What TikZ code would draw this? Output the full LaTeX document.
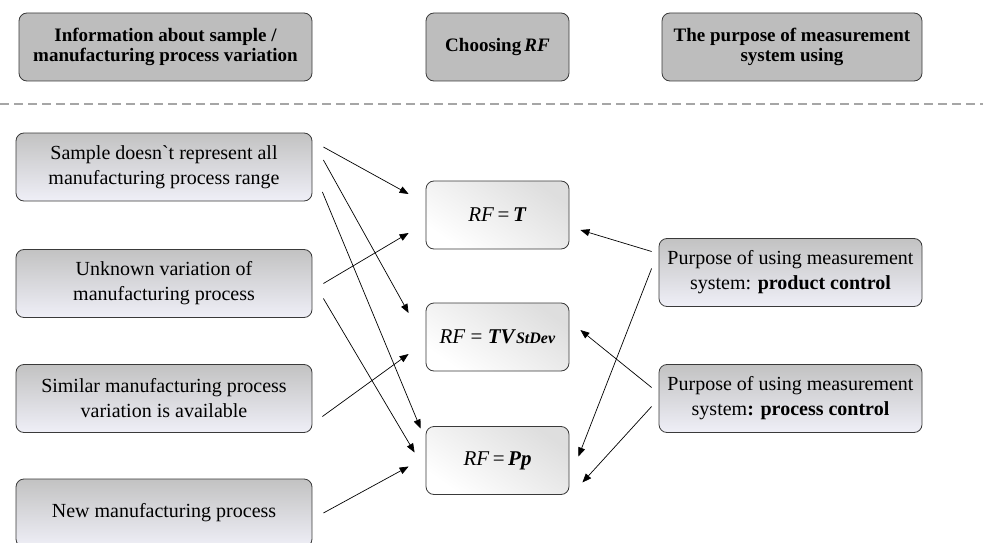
\documentclass[tikz,border=0pt]{standalone}
\usepackage{fontspec}
\setmainfont{Liberation Serif}
\newfontfamily\plainserif[Ligatures=ResetAll]{Liberation Serif}
\usetikzlibrary{arrows.meta,calc}
\definecolor{hdrgray}{HTML}{BDBDBD}
\definecolor{srctop}{HTML}{C2C2C2}
\definecolor{srcbot}{HTML}{EFEFF7}
\definecolor{rftop}{HTML}{DEDEDE}
\definecolor{edgec}{HTML}{3A3A3A}
\definecolor{dashc}{HTML}{A6A6A6}
\begin{document}
\begin{tikzpicture}[x=1pt,y=-1pt,
  box/.style={draw=edgec, line width=0.8pt, rounded corners=8pt, align=center, inner sep=0pt, minimum height=68pt},
  hdr/.style={box, fill=hdrgray, font=\bfseries\fontsize{19}{20}\selectfont},
  src/.style={box, top color=srctop, bottom color=srcbot, minimum width=296pt, font=\fontsize{20}{25}\selectfont},
  rfbox/.style={box, top color=rftop, bottom color=white, shading angle=-35, minimum width=143pt, font=\fontsize{21}{22}\selectfont},
  purp/.style={box, top color=srctop, bottom color=srcbot, minimum width=263pt, font=\fontsize{20}{25}\selectfont},
  arr/.style={-{Triangle[length=9pt,width=7pt]}, line width=0.7pt, black},
  dashline/.style={draw=dashc, line width=1.4pt, dash pattern=on 9pt off 5pt}]
\useasboundingbox (0,0) rectangle (983,543);
\clip (0,0) rectangle (983,543);
% headers
\node[hdr, minimum width=293pt] (H1) at (165.5,47) {Information about sample /\\manufacturing process variation};
\node[hdr, minimum width=143pt] (H2) at (497.5,47) {Choosing\,\textit{RF}};
\node[hdr, minimum width=260pt] (H3) at (792,47) {The purpose of measurement\\system using};
\draw[dashline] (0,104) -- (983,104);
% left column
\node[src] (L1) at (164,167) {Sample doesn{\plainserif `}t represent all\\manufacturing process range};
\node[src] (L2) at (164,283.5) {Unknown variation of\\manufacturing process};
\node[src] (L3) at (164,398.5) {Similar manufacturing process\\variation is available};
\node[src] (L4) at (164,513) {New manufacturing process};
% center column
\node[rfbox] (C1) at (497.5,215) {\textit{RF}\,=\,\textbf{\textit{T}}};
\node[rfbox] (C2) at (497.5,337) {\textit{RF} = \textbf{\textit{TV}}{\fontsize{16}{16}\selectfont\textbf{\textit{StDev}}}};
\node[rfbox] (C3) at (497.5,460.5) {\textit{RF}\,=\,\textbf{\textit{Pp}}};
% right column
\node[purp] (R1) at (790.5,272.5) {Purpose of using measurement\\system: \textbf{product control}};
\node[purp] (R2) at (790.5,398.5) {Purpose of using measurement\\system\textbf{: process control}};
% connectors from left
\draw[arr] ([shift={(11,-20)}]L1.east) -- ([shift={(-17,-21)}]C1.west);
\draw[arr] ([shift={(11,-7)}]L1.east) -- ([shift={(-17,-24)}]C2.west);
\draw[arr] ([shift={(10,25)}]L1.east) -- ([shift={(-5,-32)}]C3.west);
\draw[arr] ([shift={(11,0)}]L2.east) -- ([shift={(-17,18)}]C1.west);
\draw[arr] ([shift={(11,15)}]L2.east) -- ([shift={(-11,-8)}]C3.west);
\draw[arr] ([shift={(10,18)}]L3.east) -- ([shift={(-17,17)}]C2.west);
\draw[arr] ([shift={(11,0)}]L4.east) -- ([shift={(-17,6)}]C3.west);
% connectors from right
\draw[arr] ([shift={(-7,-21)}]R1.west) -- ([shift={(11,15)}]C1.east);
\draw[arr] ([shift={(-7,-4)}]R1.west) -- ([shift={(9,-4)}]C3.east);
\draw[arr] ([shift={(-7,-11)}]R2.west) -- ([shift={(11,-7)}]C2.east);
\draw[arr] ([shift={(-7,8)}]R2.west) -- ([shift={(13,22)}]C3.east);
\end{tikzpicture}
\end{document}
